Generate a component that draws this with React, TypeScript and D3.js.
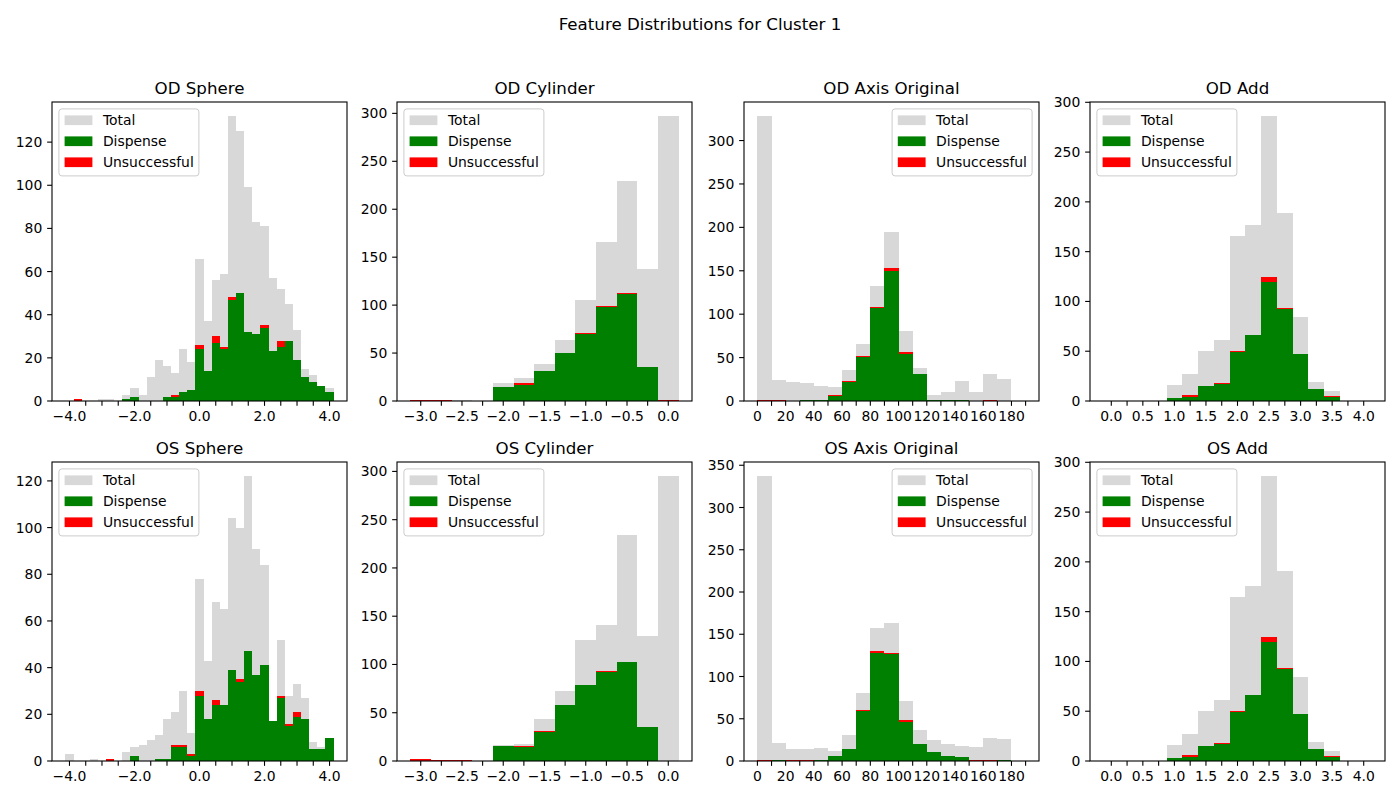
import React from "react";
import * as d3 from "d3";

// ---------- categories (bin centres) ----------
const SPHERE_BINS = [-4.0, -3.75, -3.5, -3.25, -3.0, -2.75, -2.5, -2.25, -2.0, -1.75, -1.5, -1.25, -1.0, -0.75, -0.5, -0.25, 0.0, 0.25, 0.5, 0.75, 1.0, 1.25, 1.5, 1.75, 2.0, 2.25, 2.5, 2.75, 3.0, 3.25, 3.5, 3.75, 4.0];
const CYL_BINS = [-3.0, -2.75, -2.5, -2.25, -2.0, -1.75, -1.5, -1.25, -1.0, -0.75, -0.5, -0.25, 0.0];
const AXIS_BINS = [5, 15, 25, 35, 45, 55, 65, 75, 85, 95, 105, 115, 125, 135, 145, 155, 165, 175, 185];
const ADD_BINS = [0.0, 0.25, 0.5, 0.75, 1.0, 1.25, 1.5, 1.75, 2.0, 2.25, 2.5, 2.75, 3.0, 3.25, 3.5, 3.75, 4.0];

// ---------- series values ----------
const OD_SPHERE_TOTAL = [0, 1, 0, 0, 1, 1, 0, 3, 6, 3, 11, 19, 16, 13, 24, 18, 66, 37, 56, 59, 132, 125, 99, 83, 81, 57, 52, 45, 33, 15, 12, 7, 6];
const OD_SPHERE_DISP = [0, 0, 0, 0, 0, 0, 0, 1, 2, 0, 0, 0, 2, 2, 4, 5, 24, 14, 27, 24, 47, 50, 32, 31, 34, 23, 25, 28, 19, 11, 9, 7, 4];
const OD_SPHERE_UNS = [0, 1, 0, 0, 0, 0, 0, 0, 0, 0, 0, 0, 0, 1, 0, 0, 2, 0, 3, 1, 1, 0, 0, 0, 1, 0, 3, 0, 0, 0, 0, 0, 0];

const OD_CYL_TOTAL = [1, 1, 1, 0, 19, 24, 39, 64, 105, 166, 229, 138, 297];
const OD_CYL_DISP = [0, 0, 0, 0, 15, 17, 31, 50, 70, 98, 112, 35, 0];
const OD_CYL_UNS = [1, 1, 0, 0, 0, 2, 0, 0, 1, 1, 1, 0, 1];

const OD_AXIS_TOTAL = [328, 24, 22, 21, 17, 16, 36, 66, 133, 195, 81, 38, 7, 10, 23, 10, 31, 25, 0];
const OD_AXIS_DISP = [0, 0, 0, 1, 1, 6, 22, 51, 107, 150, 54, 31, 1, 1, 1, 0, 0, 0, 0];
const OD_AXIS_UNS = [1, 1, 0, 0, 0, 1, 1, 1, 1, 3, 2, 0, 0, 0, 0, 0, 1, 0, 0];

const OD_ADD_TOTAL = [0, 0, 0, 0, 16, 27, 50, 61, 166, 177, 286, 189, 84, 19, 10, 0, 0];
const OD_ADD_DISP = [0, 0, 0, 0, 3, 4, 15, 17, 49, 66, 120, 92, 47, 12, 4, 0, 0];
const OD_ADD_UNS = [0, 0, 0, 0, 0, 2, 0, 1, 1, 0, 5, 1, 0, 0, 1, 0, 0];

const OS_SPHERE_TOTAL = [3, 0, 0, 1, 0, 1, 0, 4, 6, 7, 9, 11, 18, 21, 30, 12, 78, 43, 68, 65, 104, 100, 122, 91, 84, 17, 52, 28, 33, 27, 8, 6, 10];
const OS_SPHERE_DISP = [0, 0, 0, 0, 0, 0, 0, 0, 2, 0, 0, 1, 1, 6, 6, 2, 28, 18, 24, 24, 39, 34, 47, 37, 41, 17, 27, 15, 19, 18, 5, 5, 10];
const OS_SPHERE_UNS = [0, 0, 0, 0, 0, 1, 0, 0, 0, 0, 0, 0, 0, 1, 1, 1, 2, 0, 2, 0, 0, 1, 0, 0, 0, 0, 1, 1, 2, 0, 0, 0, 0];

const OS_CYL_TOTAL = [2, 1, 1, 0, 17, 18, 44, 73, 125, 141, 234, 130, 295];
const OS_CYL_DISP = [0, 0, 0, 0, 16, 15, 30, 58, 79, 92, 103, 35, 0];
const OS_CYL_UNS = [2, 1, 1, 0, 0, 1, 1, 0, 0, 1, 0, 0, 0];

const OS_AXIS_TOTAL = [337, 21, 14, 14, 15, 12, 31, 81, 157, 163, 71, 37, 25, 20, 18, 17, 27, 26, 0];
const OS_AXIS_DISP = [0, 1, 0, 0, 1, 6, 14, 59, 128, 127, 46, 20, 11, 6, 5, 0, 0, 1, 0];
const OS_AXIS_UNS = [1, 0, 1, 1, 0, 0, 0, 1, 2, 1, 2, 0, 0, 0, 0, 1, 1, 0, 0];

const OS_ADD_TOTAL = [0, 0, 0, 0, 16, 27, 50, 61, 165, 176, 286, 191, 84, 19, 10, 0, 0];
const OS_ADD_DISP = [0, 0, 0, 0, 3, 4, 15, 17, 49, 66, 120, 92, 47, 12, 4, 0, 0];
const OS_ADD_UNS = [0, 0, 0, 0, 0, 2, 0, 1, 1, 0, 5, 1, 0, 0, 1, 0, 0];

// ---------- tick labels ----------
const SPHERE_TICKS = [-4.0, -3.5, -3.0, -2.5, -2.0, -1.5, -1.0, -0.5, 0.0, 0.5, 1.0, 1.5, 2.0, 2.5, 3.0, 3.5, 4.0];
const SPHERE_TICK_LABELS = ["−4.0", "", "", "", "−2.0", "", "", "", "0.0", "", "", "", "2.0", "", "", "", "4.0"];
const CYL_TICKS = [-3.0, -2.75, -2.5, -2.25, -2.0, -1.75, -1.5, -1.25, -1.0, -0.75, -0.5, -0.25, 0.0];
const CYL_TICK_LABELS = ["−3.0", "", "−2.5", "", "−2.0", "", "−1.5", "", "−1.0", "", "−0.5", "", "0.0"];
const AXIS_TICKS = [0, 10, 20, 30, 40, 50, 60, 70, 80, 90, 100, 110, 120, 130, 140, 150, 160, 170, 180, 190];
const AXIS_TICK_LABELS = ["0", "", "20", "", "40", "", "60", "", "80", "", "100", "", "120", "", "140", "", "160", "", "180", ""];
const ADD_TICKS = [0.0, 0.25, 0.5, 0.75, 1.0, 1.25, 1.5, 1.75, 2.0, 2.25, 2.5, 2.75, 3.0, 3.25, 3.5, 3.75, 4.0];
const ADD_TICK_LABELS = ["0.0", "", "0.5", "", "1.0", "", "1.5", "", "2.0", "", "2.5", "", "3.0", "", "3.5", "", "4.0"];

const Y_TICKS_SPHERE = [0, 20, 40, 60, 80, 100, 120];
const Y_TICKS_BIG = [0, 50, 100, 150, 200, 250, 300, 350];

const TITLES = ["OD Sphere", "OD Cylinder", "OD Axis Original", "OD Add", "OS Sphere", "OS Cylinder", "OS Axis Original", "OS Add"];
const LEGEND_LABELS = ["Total", "Dispense", "Unsuccessful"];
const SUPTITLE = "Feature Distributions for Cluster 1";

// ---------- style ----------
const C_TOTAL = "#d8d8d8";
const C_DISP = "#008000";
const C_UNS = "#ff0000";
const FONT = "DejaVu Sans, Liberation Sans, sans-serif";

const COL_LEFT = [52, 397, 744, 1090];
const ROW_TOP = [102, 462];
const AX_W = 295;
const AX_H = 299;
const TICK_LEN = 4.86;
const TICK_PAD = 4.86;

type PanelDef = {
  title: string;
  bins: number[];
  binW: number;
  total: number[];
  disp: number[];
  uns: number[];
  xTicks: number[];
  xLabels: string[];
  yTicks: number[];
  legend: "left" | "right";
};

const PANELS: PanelDef[] = [
  { title: TITLES[0], bins: SPHERE_BINS, binW: 0.25, total: OD_SPHERE_TOTAL, disp: OD_SPHERE_DISP, uns: OD_SPHERE_UNS, xTicks: SPHERE_TICKS, xLabels: SPHERE_TICK_LABELS, yTicks: Y_TICKS_SPHERE, legend: "left" },
  { title: TITLES[1], bins: CYL_BINS, binW: 0.25, total: OD_CYL_TOTAL, disp: OD_CYL_DISP, uns: OD_CYL_UNS, xTicks: CYL_TICKS, xLabels: CYL_TICK_LABELS, yTicks: Y_TICKS_BIG, legend: "left" },
  { title: TITLES[2], bins: AXIS_BINS, binW: 10, total: OD_AXIS_TOTAL, disp: OD_AXIS_DISP, uns: OD_AXIS_UNS, xTicks: AXIS_TICKS, xLabels: AXIS_TICK_LABELS, yTicks: Y_TICKS_BIG, legend: "right" },
  { title: TITLES[3], bins: ADD_BINS, binW: 0.25, total: OD_ADD_TOTAL, disp: OD_ADD_DISP, uns: OD_ADD_UNS, xTicks: ADD_TICKS, xLabels: ADD_TICK_LABELS, yTicks: Y_TICKS_BIG, legend: "left" },
  { title: TITLES[4], bins: SPHERE_BINS, binW: 0.25, total: OS_SPHERE_TOTAL, disp: OS_SPHERE_DISP, uns: OS_SPHERE_UNS, xTicks: SPHERE_TICKS, xLabels: SPHERE_TICK_LABELS, yTicks: Y_TICKS_SPHERE, legend: "left" },
  { title: TITLES[5], bins: CYL_BINS, binW: 0.25, total: OS_CYL_TOTAL, disp: OS_CYL_DISP, uns: OS_CYL_UNS, xTicks: CYL_TICKS, xLabels: CYL_TICK_LABELS, yTicks: Y_TICKS_BIG, legend: "left" },
  { title: TITLES[6], bins: AXIS_BINS, binW: 10, total: OS_AXIS_TOTAL, disp: OS_AXIS_DISP, uns: OS_AXIS_UNS, xTicks: AXIS_TICKS, xLabels: AXIS_TICK_LABELS, yTicks: Y_TICKS_BIG, legend: "right" },
  { title: TITLES[7], bins: ADD_BINS, binW: 0.25, total: OS_ADD_TOTAL, disp: OS_ADD_DISP, uns: OS_ADD_UNS, xTicks: ADD_TICKS, xLabels: ADD_TICK_LABELS, yTicks: Y_TICKS_BIG, legend: "left" },
];

function Panel({ p, left, top }: { p: PanelDef; left: number; top: number }) {
  const lo = d3.min(p.bins)! - p.binW / 2;
  const hi = d3.max(p.bins)! + p.binW / 2;
  const m = (hi - lo) * 0.05;
  const x = d3.scaleLinear().domain([lo - m, hi + m]).range([0, AX_W]);
  const ymax = d3.max(p.bins.map((_, i) => Math.max(p.total[i], p.disp[i] + p.uns[i])))! * 1.05;
  const y = d3.scaleLinear().domain([0, ymax]).range([AX_H, 0]);

  const bar = (i: number, y0: number, y1: number, color: string, key: string) => {
    if (y1 - y0 <= 0) return null;
    const x0 = x(p.bins[i] - p.binW / 2);
    const x1 = x(p.bins[i] + p.binW / 2);
    return <rect key={key} x={x0} y={y(y1)} width={x1 - x0} height={y(y0) - y(y1)} fill={color} />;
  };

  const legW = 140;
  const legH = 67;
  const legX = p.legend === "left" ? 6.9 : AX_W - 6.9 - legW;
  const legY = 6.9;
  const legColors = [C_TOTAL, C_DISP, C_UNS];

  return (
    <g transform={`translate(${left},${top})`}>
      <g shapeRendering="crispEdges">
        {p.bins.map((_, i) => bar(i, 0, p.total[i], C_TOTAL, `t${i}`))}
        {p.bins.map((_, i) => bar(i, 0, p.disp[i], C_DISP, `d${i}`))}
        {p.bins.map((_, i) => bar(i, p.disp[i], p.disp[i] + p.uns[i], C_UNS, `u${i}`))}
      </g>
      {/* legend */}
      <g transform={`translate(${legX},${legY})`}>
        <rect x={0} y={0} width={legW} height={legH} rx={3} ry={3} fill="white" fillOpacity={0.8} stroke="#cccccc" strokeWidth={1} />
        {LEGEND_LABELS.map((lab, k) => (
          <g key={lab} transform={`translate(0,${11.4 + k * 21})`}>
            <rect x={5.7} y={-4.9} width={27.8} height={9.7} fill={legColors[k]} />
            <text x={44} y={0} dominantBaseline="central" fontSize={13.9} fontFamily={FONT} fill="#000">{lab}</text>
          </g>
        ))}
      </g>
      {/* spines */}
      <rect x={0} y={0} width={AX_W} height={AX_H} fill="none" stroke="#000" strokeWidth={1.1} />
      {/* x ticks */}
      {p.xTicks.map((t, i) => (
        <g key={`xt${i}`} transform={`translate(${x(t)},${AX_H})`}>
          <line y1={0} y2={TICK_LEN} stroke="#000" strokeWidth={1.1} />
          {p.xLabels[i] ? (
            <text y={TICK_LEN + TICK_PAD} dy="0.76em" textAnchor="middle" fontSize={13.9} fontFamily={FONT} fill="#000">{p.xLabels[i]}</text>
          ) : null}
        </g>
      ))}
      {/* y ticks */}
      {p.yTicks.filter((t) => t <= ymax).map((t) => (
        <g key={`yt${t}`} transform={`translate(0,${y(t)})`}>
          <line x1={0} x2={-TICK_LEN} stroke="#000" strokeWidth={1.1} />
          <text x={-(TICK_LEN + TICK_PAD)} dy="0.36em" textAnchor="end" fontSize={13.9} fontFamily={FONT} fill="#000">{t}</text>
        </g>
      ))}
      <text x={AX_W / 2} y={-8.3} textAnchor="middle" fontSize={16.67} fontFamily={FONT} fill="#000">{p.title}</text>
    </g>
  );
}

export default function App() {
  return (
    <svg width={1400} height={800} style={{ display: "block", position: "absolute", left: 0, top: 0, background: "#fff" }}>
      <rect x={0} y={0} width={1400} height={800} fill="#fff" />
      <text x={700} y={30} textAnchor="middle" fontSize={16.67} fontFamily={FONT} fill="#000">{SUPTITLE}</text>
      {PANELS.map((p, i) => (
        <Panel key={p.title} p={p} left={COL_LEFT[i % 4]} top={ROW_TOP[Math.floor(i / 4)]} />
      ))}
    </svg>
  );
}
